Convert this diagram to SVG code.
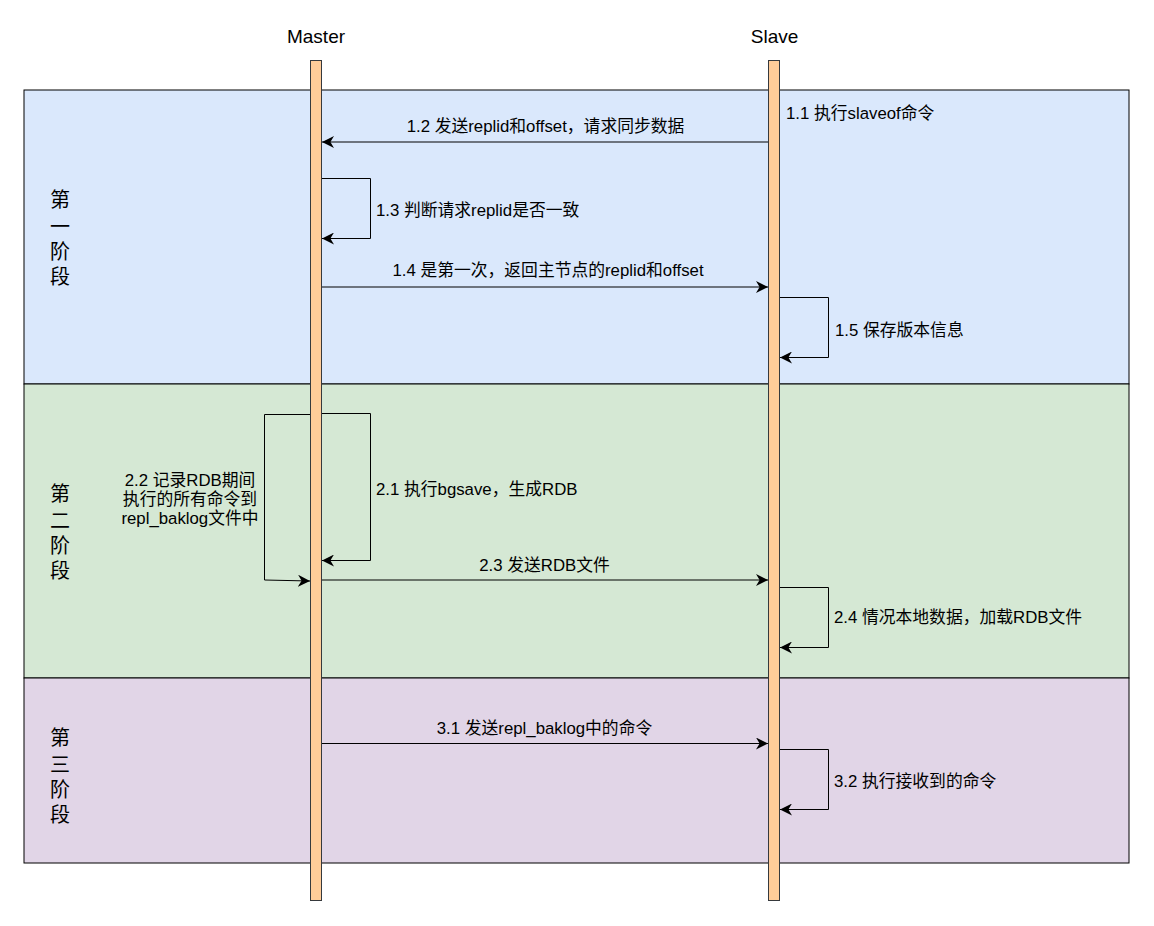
<svg xmlns="http://www.w3.org/2000/svg" width="1154" height="926" viewBox="0 0 1154 926">
<style>
text{font-family:"Liberation Sans","Noto Sans CJK SC",sans-serif;fill:#000}
.lbl{font-size:16.8px}
.hdr{font-size:19px}
.ph{font-size:20px}
.ln{fill:none;stroke:#000;stroke-width:1}
.life{fill:#ffcc99;stroke:#36393d;stroke-width:1}
</style>
<defs>
<marker id="ah" viewBox="0 0 10 10" refX="10" refY="5" markerWidth="12" markerHeight="12" markerUnits="userSpaceOnUse" orient="auto">
<path d="M0,0 L10,5 L0,10 L3,5 Z" fill="#000"/>
</marker>
</defs>
<rect width="1154" height="926" fill="#fff"/>
<g id="phase1">
<rect x="24" y="90" width="1105" height="294" fill="#dae8fc" stroke="#000"/>
<text class="ph" x="60" y="207" text-anchor="middle">第</text>
<text class="ph" x="60" y="234" text-anchor="middle">一</text>
<text class="ph" x="60" y="259" text-anchor="middle">阶</text>
<text class="ph" x="60" y="284" text-anchor="middle">段</text>
</g>
<g id="phase2">
<rect x="24" y="384" width="1105" height="294" fill="#d5e8d4" stroke="#000"/>
<text class="ph" x="60" y="501" text-anchor="middle">第</text>
<text class="ph" x="60" y="528" text-anchor="middle">二</text>
<text class="ph" x="60" y="553" text-anchor="middle">阶</text>
<text class="ph" x="60" y="578" text-anchor="middle">段</text>
</g>
<g id="phase3">
<rect x="24" y="678" width="1105" height="185" fill="#e1d5e7" stroke="#000"/>
<text class="ph" x="60" y="745" text-anchor="middle">第</text>
<text class="ph" x="60" y="772" text-anchor="middle">三</text>
<text class="ph" x="60" y="797" text-anchor="middle">阶</text>
<text class="ph" x="60" y="822" text-anchor="middle">段</text>
</g>
<g id="master">
<text class="hdr" x="316" y="43" text-anchor="middle">Master</text>
<rect class="life" x="310.5" y="60.5" width="11" height="840"/>
</g>
<g id="slave">
<text class="hdr" x="774.5" y="43" text-anchor="middle">Slave</text>
<rect class="life" x="768.5" y="60.5" width="11" height="840"/>
</g>
<g id="connectors">
<path class="ln" d="M768,142 H322" marker-end="url(#ah)"/>
<path class="ln" d="M322,178.5 H370.5 V238.5 H322" marker-end="url(#ah)"/>
<path class="ln" d="M322,287 H768" marker-end="url(#ah)"/>
<path class="ln" d="M780,297.5 H828.5 V357.5 H780" marker-end="url(#ah)"/>
<path class="ln" d="M322,413.5 H370.5 V560.5 H322" marker-end="url(#ah)"/>
<path class="ln" d="M310,414.5 H264.5 V580 L310,581" marker-end="url(#ah)"/>
<path class="ln" d="M322,580 H768" marker-end="url(#ah)"/>
<path class="ln" d="M780,587.5 H828.5 V647.5 H780" marker-end="url(#ah)"/>
<path class="ln" d="M322,743.5 H768" marker-end="url(#ah)"/>
<path class="ln" d="M780,749.5 H828.5 V809.5 H780" marker-end="url(#ah)"/>
</g>
<g id="labels">
<text class="lbl" x="786" y="119">1.1 执行slaveof命令</text>
<text class="lbl" x="545.5" y="132" text-anchor="middle">1.2 发送replid和offset，请求同步数据</text>
<text class="lbl" x="376" y="216">1.3 判断请求replid是否一致</text>
<text class="lbl" x="548" y="276" text-anchor="middle">1.4 是第一次，返回主节点的replid和offset</text>
<text class="lbl" x="835" y="336">1.5 保存版本信息</text>
<text class="lbl" x="376" y="495">2.1 执行bgsave，生成RDB</text>
<text class="lbl" x="190" y="486" text-anchor="middle">2.2 记录RDB期间</text>
<text class="lbl" x="190" y="505" text-anchor="middle">执行的所有命令到</text>
<text class="lbl" x="190" y="524" text-anchor="middle">repl_baklog文件中</text>
<text class="lbl" x="544.5" y="571" text-anchor="middle">2.3 发送RDB文件</text>
<text class="lbl" x="834" y="623">2.4 情况本地数据，加载RDB文件</text>
<text class="lbl" x="544.5" y="734" text-anchor="middle">3.1 发送repl_baklog中的命令</text>
<text class="lbl" x="834" y="787">3.2 执行接收到的命令</text>
</g>
</svg>
